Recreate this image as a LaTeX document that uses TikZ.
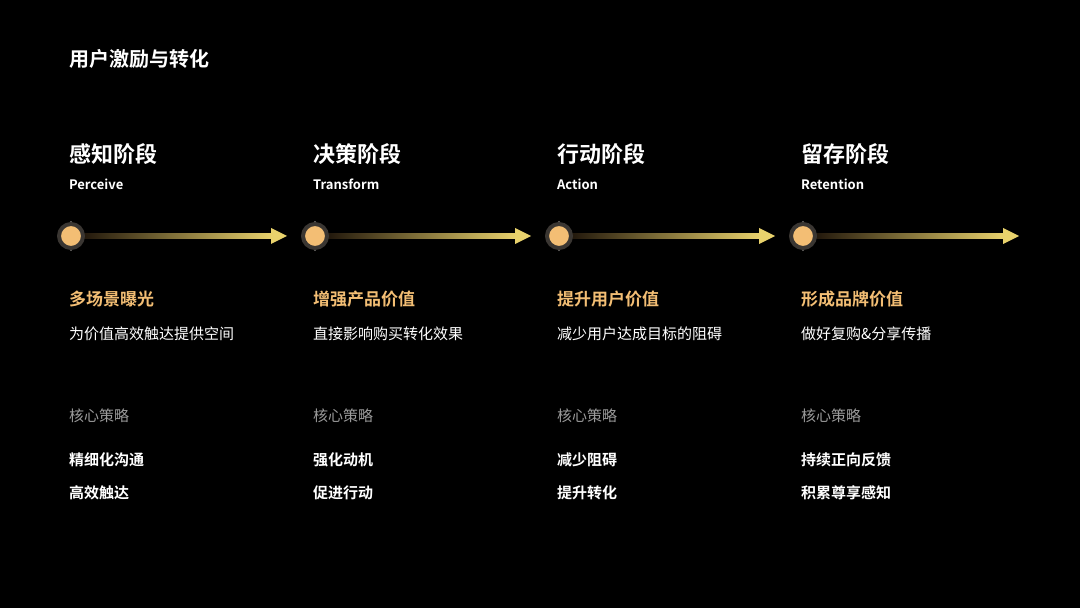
\documentclass[tikz,border=0pt]{standalone}
\usepackage{fontspec}
\setmainfont{Noto Sans CJK SC}
\newfontfamily\cjkbold{Noto Sans CJK SC Bold}
\usetikzlibrary{positioning}
\definecolor{gold}{HTML}{F3BE74}
\definecolor{lemon}{HTML}{E9D26C}
\definecolor{umber}{HTML}{1E140A}
\definecolor{ring}{HTML}{3A3632}
\definecolor{mute}{HTML}{9A9A9A}
\tikzset{
	title/.style={anchor=base west,text=white,font=\cjkbold\fontsize{10}{12}\selectfont},
	stage/.style={anchor=base west,text=white,font=\cjkbold\fontsize{11}{13}\selectfont},
	eng/.style={anchor=base west,text=white,font=\cjkbold\fontsize{6.5}{8}\selectfont},
	goal/.style={anchor=base west,text=gold,font=\cjkbold\fontsize{8.5}{10}\selectfont},
	desc/.style={anchor=base west,text=white,font=\fontsize{7.5}{9}\selectfont},
	key/.style={anchor=base west,text=mute,font=\fontsize{7.5}{9}\selectfont},
	item/.style={anchor=base west,text=white,font=\cjkbold\fontsize{7.5}{9}\selectfont},
	dot/.style={circle,fill=gold,draw=ring,line width=2pt,minimum size=12pt,inner sep=0pt}
}
\begin{document}
\begin{tikzpicture}[x=0.5pt,y=-0.5pt]
	\fill[black] (0,0) rectangle (1080,608);
	\useasboundingbox (0,0) rectangle (1080,608);
	\node[title] (ttl) at (62,67) {用户激励与转化};
	\foreach \i/\x/\cn/\en/\g/\d/\a/\b in {
		1/62/感知阶段/Perceive/多场景曝光/为价值高效触达提供空间/精细化沟通/高效触达,
		2/306/决策阶段/Transform/增强产品价值/直接影响购买转化效果/强化动机/促进行动,
		3/550/行动阶段/Action/提升用户价值/减少用户达成目标的阻碍/减少阻碍/提升转化,
		4/794/留存阶段/Retention/形成品牌价值/做好复购\&分享传播/持续正向反馈/积累尊享感知}{
		\node[stage] (s\i) at (\x,163) {\cn};
		\node[eng] (e\i) at (\x,190) {\en};
		% arrow with gradient shaft
		\shade[left color=umber,right color=lemon] (\x+18,233.5) rectangle (\x+211,238.5);
		\fill[lemon] (\x+209,228) -- (\x+225,236) -- (\x+209,244) -- cycle;
		\fill[ring!70] (\x+9,222) circle (1.2) (\x+9,250) circle (1.2);
		\node[dot] (d\i) at (\x+9,236) {};
		\node[goal] (g\i) at (\x,306) {\g};
		\node[desc] (t\i) at (\x,340) {\d};
		\node[key] (k\i) at (\x,422) {核心策略};
		\node[item] (a\i) at (\x,466) {\a};
		\node[item] (b\i) at (\x,498) {\b};
	}
\end{tikzpicture}
\end{document}
